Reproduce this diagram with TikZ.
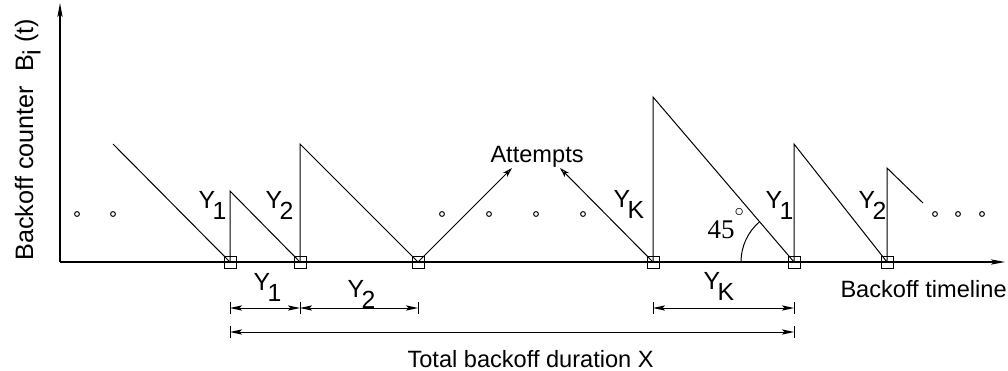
\documentclass[tikz,border=0pt]{standalone}
\usepackage{fontspec}
\setmainfont{Liberation Sans}
\newfontfamily\degfont{Liberation Serif}
\usetikzlibrary{arrows.meta, positioning}
\newcommand{\lowsub}[1]{\kern-0.1em\raisebox{-0.48em}{#1}}
\tikzset{
  every picture/.style={line width=0.5pt},
  slot/.style={draw, minimum size=6pt, inner sep=0pt},
  axis/.style={-{Stealth[length=7pt, width=2.6pt, inset=1.5pt]}, line width=0.6pt},
  dim/.style={{Stealth[length=6pt, width=2.6pt, inset=1.2pt]}-{Stealth[length=6pt, width=2.6pt, inset=1.2pt]}},
  hit/.style={-{Stealth[length=5pt, width=3pt, open]}},
  lbl/.style={anchor=base west, inner sep=0pt},
  ylbl/.style={lbl, font=\fontsize{12.4}{14}\selectfont},
}
\begin{document}
\begin{tikzpicture}[x=0.5pt, y=-0.5pt, every node/.append style={font=\fontsize{11.8}{14}\selectfont}]
  \useasboundingbox (0,0) rectangle (1008,370);
  % axes
  \coordinate (o) at (60,262);
  \coordinate (ytop) at (60,3);
  \coordinate (xend) at (1005,262);
  \draw[axis] (o) -- (ytop);
  \draw[axis] (o) -- (xend);
  \node[rotate=90, anchor=base west, inner sep=0pt, font=\fontsize{12.6}{14}\selectfont] (ylab) at (33,261) {Backoff counter\ \ B\raisebox{-0.3em}{i}\ (t)};
  \node[lbl] (xlab) at (840,297) {Backoff timeline};
  % transmission slots
  \node[slot] (s1) at (230,262) {};
  \node[slot] (s2) at (300,262) {};
  \node[slot] (s3) at (418,262) {};
  \node[slot] (s4) at (653,262) {};
  \node[slot] (s5) at (794,262) {};
  \node[slot] (s6) at (887,262) {};
  % counter peaks
  \coordinate (p0) at (113,144);
  \coordinate (p1) at (230,191);
  \coordinate (p2) at (300,144);
  \coordinate (p4) at (653,97);
  \coordinate (p5) at (794,144);
  \coordinate (p6) at (887,168);
  \coordinate (q6) at (923,203);
  \draw (p0) -- (s1.center);
  \draw (s1.center) -- (p1) -- (s2.center);
  \draw (s2.center) -- (p2) -- (s3.center);
  \draw (s4.center) -- (p4) -- (s5.center);
  \draw (s5.center) -- (p5) -- (s6.center);
  \draw (s6.center) -- (p6) -- (q6);
  % attempts
  \node[lbl] (att) at (490,162) {Attempts};
  \coordinate (a1) at (512,168);
  \coordinate (a2) at (560,168);
  \draw[hit] (s3.center) -- (a1);
  \draw[hit] (s4.center) -- (a2);
  % dots
  \foreach \x in {77,113,442,489,536,583,935,958,982}
    \draw (\x,214) circle[radius=1.2pt];
  % angle
  \draw ([xshift=-26.5pt]s5.center) arc[start angle=180, end angle=130.5, radius=26.5pt];
  \node[lbl, font=\fontsize{13.5}{15}\selectfont] (ang) at (707,238) {\degfont 45\raisebox{0.8em}{\small$\circ$}};
  % counter labels
  \node[ylbl] (y1a) at (198,208) {Y\lowsub{1}};
  \node[ylbl] (y2a) at (265,208) {Y\lowsub{2}};
  \node[ylbl] (yka) at (613,207) {Y\lowsub{K}};
  \node[ylbl] (y1b) at (765,208) {Y\lowsub{1}};
  \node[ylbl] (y2b) at (858,208) {Y\lowsub{2}};
  % durations
  \coordinate (d1) at (230,308);
  \coordinate (d2) at (300,308);
  \coordinate (d3) at (418,308);
  \coordinate (d4) at (653,308);
  \coordinate (d5) at (794,308);
  \coordinate (t1) at (230,332);
  \coordinate (t2) at (794,332);
  \draw[dim] (d1) -- (d2);
  \draw[dim] (d2) -- (d3);
  \draw[dim] (d4) -- (d5);
  \draw[dim] (t1) -- (t2);
  \foreach \c in {d1,d2,d3,d4,d5,t1,t2}
    \draw ([yshift=3pt]\c) -- ([yshift=-3pt]\c);
  \node[ylbl] (y1c) at (253,290) {Y\lowsub{1}};
  \node[ylbl] (y2c) at (347,297) {Y\lowsub{2}};
  \node[ylbl] (ykc) at (703,289) {Y\lowsub{K}};
  \node[lbl] (tot) at (407,367) {Total backoff duration X};
\end{tikzpicture}
\end{document}
